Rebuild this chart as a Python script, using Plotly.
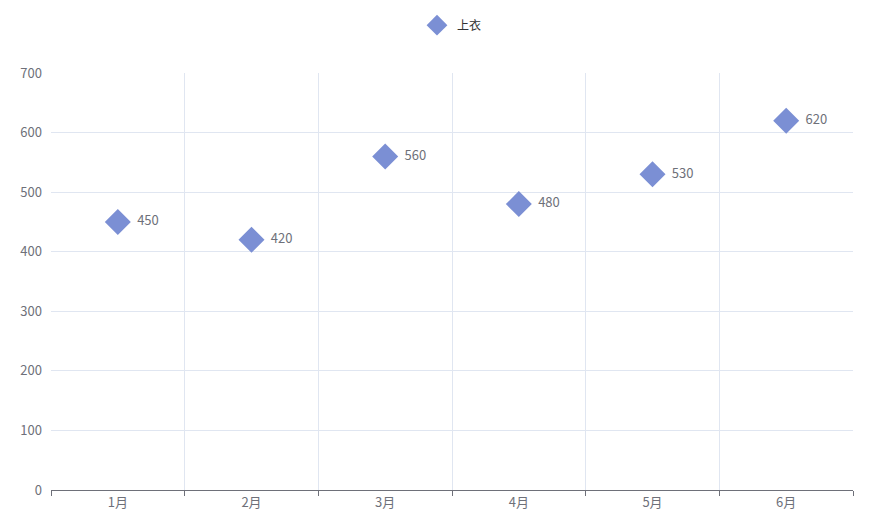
import plotly.graph_objects as go

categories = ["1月", "2月", "3月", "4月", "5月", "6月"]
values = [450, 420, 560, 480, 530, 620]
series_name = "上衣"

xpos = [i + 0.5 for i in range(len(categories))]
fig = go.Figure(go.Scatter(
    x=xpos, y=values, mode="markers+text", name=series_name,
    marker=dict(symbol="diamond", size=20, color="#7b8fd4"),
    text=["  " + str(v) for v in values], textposition="middle right",
    textfont=dict(color="#6e7079", size=13),
    showlegend=True, cliponaxis=False,
))
fig.update_layout(
    width=872, height=527, plot_bgcolor="white", paper_bgcolor="white",
    margin=dict(l=35, r=27, t=65, b=45),
    font=dict(family="Noto Sans CJK SC, sans-serif", color="#6e7079", size=13),
    legend=dict(orientation="h", x=0.5, xanchor="center", y=0.995, yref="container",
                yanchor="top", font=dict(color="#333", size=12)),
    xaxis=dict(range=[0, 6], tickvals=xpos, ticktext=categories, showgrid=False,
               ticks="", zeroline=False, showline=True, linecolor="#6e7079",
               minor=dict(tick0=0, dtick=1, showgrid=True, gridcolor="#e0e6f1",
                          ticks="outside", ticklen=5, tickcolor="#6e7079")),
    yaxis=dict(range=[0, 700], dtick=100, gridcolor="#e0e6f1", zeroline=False,
               showline=False, ticks="", ticklabelstandoff=8),
)
fig.write_html("out.html")
